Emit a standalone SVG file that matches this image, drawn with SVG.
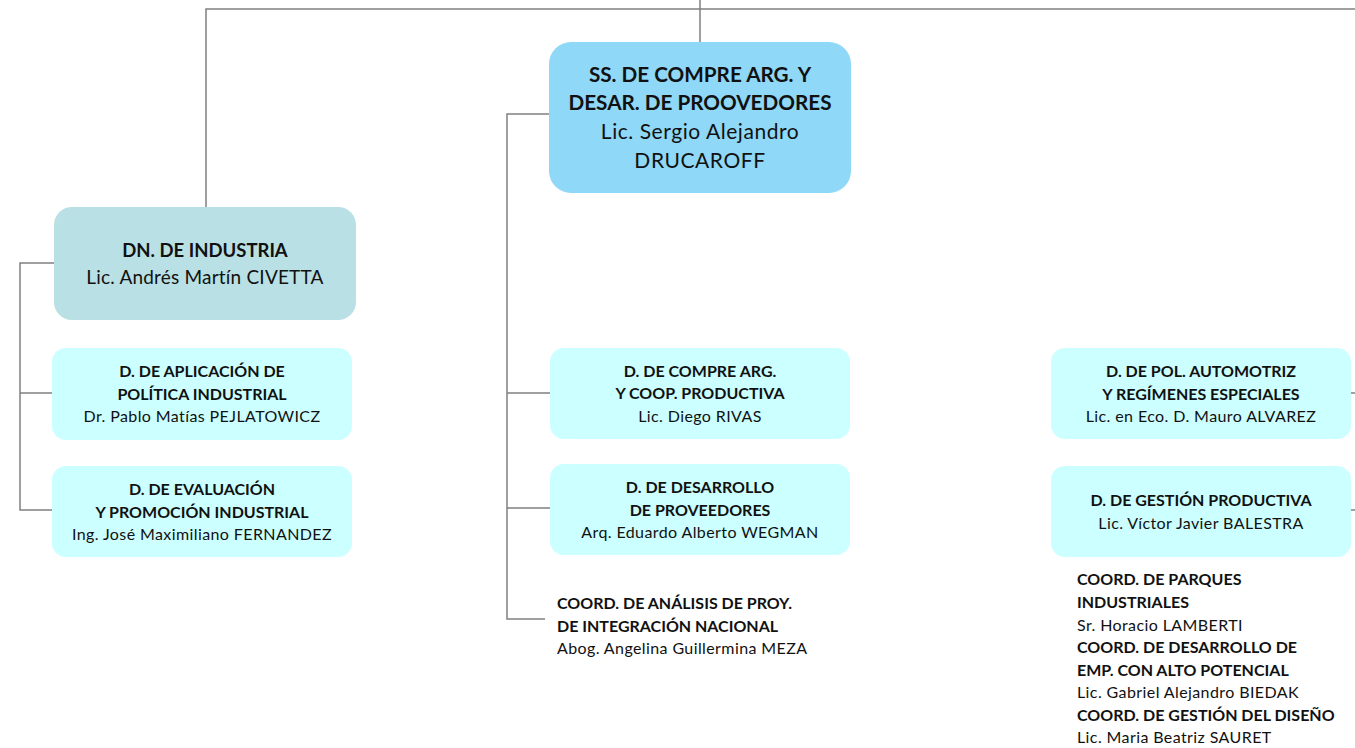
<svg xmlns="http://www.w3.org/2000/svg" width="1355" height="748" viewBox="0 0 1355 748">
<style>
.ln{stroke:#808080;stroke-width:1.5;fill:none}
.t{font-family:Lato,"Open Sans","Liberation Sans",sans-serif;fill:#111;text-anchor:middle}
.b{font-weight:bold}
.s{font-size:16px}
.r{letter-spacing:0.4px}
.l{text-anchor:start}
.bx{fill:#ccffff}
</style>
<rect width="1355" height="748" fill="#fff"/>
<g id="connectors">
<path class="ln" d="M700 0V42M206 207V9H1355"/>
<path class="ln" d="M549 114H507V619H545M507 393H550M507 508H550"/>
<path class="ln" d="M54 263H20V510H52M20 393H52"/>
<path class="ln" d="M1351 393H1355M1351 510H1355"/>
</g>
<g id="ss">
<rect x="549" y="42" width="302" height="151" rx="22" fill="#8fd8f7"/>
<text class="t b" x="700" y="82" font-size="20.7">SS. DE COMPRE ARG. Y</text>
<text class="t b" x="700" y="110" font-size="20.7">DESAR. DE PROOVEDORES</text>
<text class="t" x="700" y="139" font-size="21" letter-spacing="0.55">Lic. Sergio Alejandro</text>
<text class="t" x="700" y="168" font-size="21" letter-spacing="0.55">DRUCAROFF</text>
</g>
<g id="dn">
<rect x="54" y="207" width="302" height="113" rx="18" fill="#b9e0e4"/>
<text class="t b" x="205" y="257" font-size="18.5">DN. DE INDUSTRIA</text>
<text class="t" x="205" y="284" font-size="19" letter-spacing="0.2">Lic. Andrés Martín CIVETTA</text>
</g>
<g id="d-aplicacion">
<rect class="bx" x="52" y="348" width="300" height="92" rx="14"/>
<text class="t b s" x="202" y="377">D. DE APLICACIÓN DE</text>
<text class="t b s" x="202" y="400">POLÍTICA INDUSTRIAL</text>
<text class="t s r" x="202" y="422">Dr. Pablo Matías PEJLATOWICZ</text>
</g>
<g id="d-evaluacion">
<rect class="bx" x="52" y="466" width="300" height="91" rx="14"/>
<text class="t b s" x="202" y="495">D. DE EVALUACIÓN</text>
<text class="t b s" x="202" y="518">Y PROMOCIÓN INDUSTRIAL</text>
<text class="t s r" x="202" y="540">Ing. José Maximiliano FERNANDEZ</text>
</g>
<g id="d-compre">
<rect class="bx" x="550" y="348" width="300" height="91" rx="14"/>
<text class="t b s" x="700" y="377">D. DE COMPRE ARG.</text>
<text class="t b s" x="700" y="399">Y COOP. PRODUCTIVA</text>
<text class="t s r" x="700" y="422">Lic. Diego RIVAS</text>
</g>
<g id="d-desarrollo">
<rect class="bx" x="550" y="464" width="300" height="91" rx="14"/>
<text class="t b s" x="700" y="493">D. DE DESARROLLO</text>
<text class="t b s" x="700" y="516">DE PROVEEDORES</text>
<text class="t s r" x="700" y="538">Arq. Eduardo Alberto WEGMAN</text>
</g>
<g id="coord-analisis">
<text class="t b s l" x="557" y="609">COORD. DE ANÁLISIS DE PROY.</text>
<text class="t b s l" x="557" y="632">DE INTEGRACIÓN NACIONAL</text>
<text class="t s r l" x="557" y="654">Abog. Angelina Guillermina MEZA</text>
</g>
<g id="d-automotriz">
<rect class="bx" x="1051" y="348" width="300" height="91" rx="14"/>
<text class="t b s" x="1201" y="377">D. DE POL. AUTOMOTRIZ</text>
<text class="t b s" x="1201" y="400">Y REGÍMENES ESPECIALES</text>
<text class="t s r" x="1201" y="422">Lic. en Eco. D. Mauro ALVAREZ</text>
</g>
<g id="d-gestion">
<rect class="bx" x="1051" y="466" width="300" height="91" rx="14"/>
<text class="t b s" x="1201" y="506">D. DE GESTIÓN PRODUCTIVA</text>
<text class="t s r" x="1201" y="529">Lic. Víctor Javier BALESTRA</text>
</g>
<g id="coords-right">
<text class="t b s l" x="1077" y="585">COORD. DE PARQUES</text>
<text class="t b s l" x="1077" y="608">INDUSTRIALES</text>
<text class="t s r l" x="1077" y="631">Sr. Horacio LAMBERTI</text>
<text class="t b s l" x="1077" y="653">COORD. DE DESARROLLO DE</text>
<text class="t b s l" x="1077" y="676">EMP. CON ALTO POTENCIAL</text>
<text class="t s r l" x="1077" y="698">Lic. Gabriel Alejandro BIEDAK</text>
<text class="t b s l" x="1077" y="721">COORD. DE GESTIÓN DEL DISEÑO</text>
<text class="t s r l" x="1077" y="743">Lic. Maria Beatriz SAURET</text>
</g>
</svg>
